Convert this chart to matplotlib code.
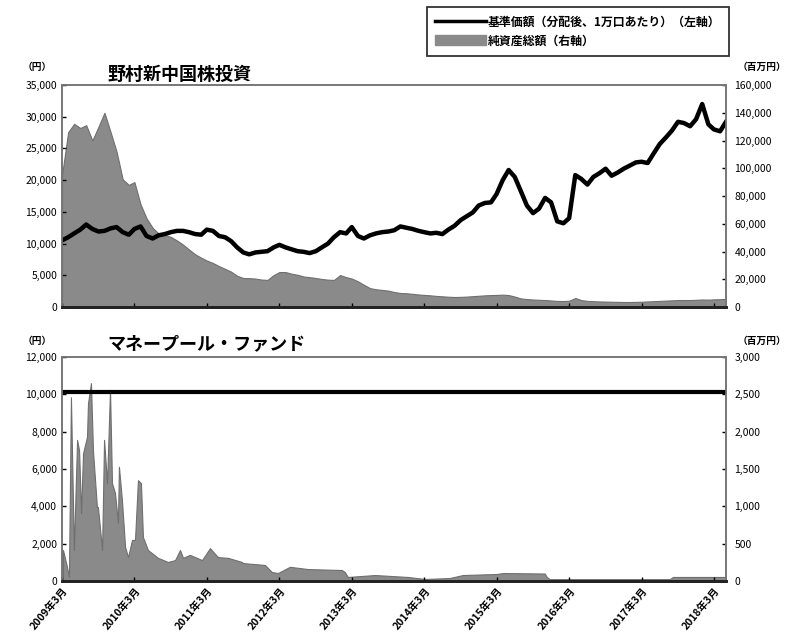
import pandas as pd
import matplotlib
matplotlib.use("Agg")
import matplotlib.pyplot as plt
from matplotlib.ticker import FuncFormatter
from matplotlib.lines import Line2D
from matplotlib.patches import Patch

plt.rcParams['font.family'] = ['Noto Sans CJK JP', 'DejaVu Sans']

# --- top fund: monthly, 2009/3 - 2018/5 ---
months_top = pd.date_range('2009-03-01', '2018-05-01', freq='MS')
nav_top = [10500, 11000, 11600, 12200, 13000, 12300, 11900, 12000, 12400, 12600,
           11800, 11400, 12300, 12700, 11200, 10800, 11300, 11500, 11800, 12000,
           12000, 11800, 11500, 11400, 12200, 12000, 11200, 11000, 10400, 9400,
           8600, 8300, 8600, 8700, 8800, 9400, 9800, 9400, 9100, 8800,
           8700, 8500, 8800, 9400, 10000, 11000, 11800, 11600, 12600, 11200,
           10800, 11300, 11600, 11800, 11900, 12100, 12700, 12500, 12300, 12000,
           11800, 11600, 11700, 11500, 12200, 12800, 13700, 14300, 14900, 16000,
           16400, 16500, 17800, 20000, 21600, 20500, 18300, 16000, 14800, 15500,
           17200, 16500, 13500, 13200, 14000, 20800, 20200, 19300, 20500, 21100,
           21800, 20700, 21200, 21800, 22300, 22800, 22900, 22700, 24200, 25700,
           26700, 27800, 29200, 29000, 28500, 29600, 32000, 28800, 28000, 27700,
           29200]
assets_top = [95000, 126000, 132000, 129000, 131000, 120000, 130000, 140000, 126000, 112000,
              92000, 88000, 90000, 74000, 64000, 57000, 53000, 52000, 50500, 48000,
              45000, 41500, 38000, 35500, 33500, 31700, 29500, 27500, 25500, 22500,
              20900, 20800, 20500, 19800, 19500, 23000, 25200, 25200, 24000, 23200,
              22000, 21500, 20900, 20200, 19700, 19500, 23000, 21500, 20500, 18500,
              16000, 13600, 12800, 12300, 11800, 10800, 10100, 9900, 9500, 9000,
              8700, 8400, 8000, 7700, 7400, 7200, 7300, 7500, 7800, 8100,
              8400, 8600, 8700, 8900, 8600, 7500, 6200, 5700, 5400, 5200,
              5000, 4700, 4400, 4300, 4500, 6500, 5000, 4400, 4200, 4000,
              3900, 3800, 3700, 3600, 3600, 3700, 3800, 4000, 4200, 4400,
              4600, 4800, 5000, 5000, 5000, 5200, 5400, 5300, 5500, 5600,
              5800]

# --- money pool fund ---
mrf_nav_dates = ['2009-03-01', '2018-05-01']
mrf_nav = [10100, 10100]
mrf_dates = ['2009-03-06', '2009-03-26', '2009-04-05', '2009-04-15', '2009-04-25', '2009-04-30',
             '2009-05-16', '2009-05-26', '2009-06-05', '2009-06-15', '2009-07-05', '2009-07-10',
             '2009-07-25', '2009-08-04', '2009-08-24', '2009-08-29', '2009-09-19', '2009-09-29',
             '2009-10-14', '2009-10-29', '2009-11-08', '2009-11-23', '2009-12-08', '2009-12-13',
             '2009-12-28', '2010-01-13', '2010-01-28', '2010-02-17', '2010-03-04', '2010-03-19',
             '2010-04-03', '2010-04-13', '2010-05-08', '2010-06-28', '2010-08-17', '2010-09-22',
             '2010-10-17', '2010-11-01', '2010-12-06', '2011-02-05', '2011-03-17', '2011-04-26',
             '2011-06-16', '2011-08-25', '2011-08-30', '2011-12-19', '2012-01-23', '2012-02-23',
             '2012-04-23', '2012-07-23', '2013-01-10', '2013-01-25', '2013-02-09', '2013-06-26',
             '2013-12-09', '2014-03-05', '2014-07-08', '2014-09-12', '2015-03-02', '2015-04-02',
             '2015-10-30', '2015-11-09', '2015-11-24', '2017-07-22', '2017-08-06', '2018-04-30']
mrf_assets = [415, 190, 55, 2460, 1085, 415, 1890, 1750, 910, 1710, 1930, 2380,
              2650, 1750, 990, 990, 415, 1890, 1310, 2560, 1310, 1180, 780, 1530,
              1085, 455, 320, 550, 550, 1350, 1310, 590, 415, 310, 255, 280,
              415, 310, 350, 280, 440, 320, 310, 255, 240, 215, 120, 107,
              190, 160, 147, 120, 54, 80, 54, 27, 40, 80, 94, 107,
              100, 54, 25, 25, 54, 54]

tick_dates = pd.date_range('2009-03-01', '2018-03-01', freq='12MS')
tick_labels = [f"{d.year}年3月" for d in tick_dates]

area_col = '#8a8a8a'
comma = FuncFormatter(lambda v, p: f"{int(v):,}")

fig = plt.figure(figsize=(7.9, 6.42), dpi=100)
ax1 = fig.add_axes([0.0785, 0.5218, 0.8405, 0.3458])
ax3 = fig.add_axes([0.0785, 0.095, 0.8405, 0.349])

def setup(ax, ax2, ymax, ystep, y2max, y2step, show_labels):
    ax.set_zorder(ax2.get_zorder() + 1)
    ax.patch.set_visible(False)
    ax.set_xlim(pd.Timestamp('2009-03-01'), pd.Timestamp('2018-05-01'))
    ax.set_ylim(0, ymax)
    ax2.set_ylim(0, y2max)
    ax.set_yticks(range(0, ymax + 1, ystep))
    ax2.set_yticks(range(0, y2max + 1, y2step))
    ax.yaxis.set_major_formatter(comma)
    ax2.yaxis.set_major_formatter(comma)
    ax.set_xticks(tick_dates)
    if show_labels:
        ax.set_xticklabels(tick_labels, rotation=50, ha='right', rotation_mode='anchor',
                           fontsize=7.5, fontweight='bold')
    else:
        ax.set_xticklabels([])
    for a in (ax, ax2):
        a.tick_params(direction='in', length=3, labelsize=7.5, width=1)
        for s in a.spines.values():
            s.set_color('#777777')
            s.set_linewidth(1.2)
        a.spines['bottom'].set_color('#222222')
        a.spines['bottom'].set_linewidth(2)
    ax2.tick_params(axis='y', pad=6)

# top panel
ax2 = ax1.twinx()
ax2.fill_between(months_top, assets_top, color=area_col, edgecolor='#6f6f6f', lw=0.8)
ax1.plot(months_top, nav_top, color='black', lw=3.2)
setup(ax1, ax2, 35000, 5000, 160000, 20000, False)

# bottom panel
ax4 = ax3.twinx()
ax4.fill_between(pd.to_datetime(mrf_dates), mrf_assets, color=area_col, edgecolor='#6f6f6f', lw=0.8)
ax3.plot(pd.to_datetime(mrf_nav_dates), mrf_nav, color='black', lw=3)
setup(ax3, ax4, 12000, 2000, 3000, 500, True)

fig.text(107 / 790, 1 - 74 / 642, '野村新中国株投資', fontsize=13, fontweight='bold', va='center')
fig.text(107 / 790, 1 - 344 / 642, 'マネープール・ファンド', fontsize=13, fontweight='bold', va='center')
for y in (67, 341):
    fig.text(37 / 790, 1 - y / 642, '（円）', fontsize=7, ha='center', va='center', fontweight='bold')
    fig.text(762 / 790, 1 - y / 642, '（百万円）', fontsize=7, ha='center', va='center', fontweight='bold')

handles = [Line2D([0], [0], color='black', lw=2.5),
           Patch(facecolor=area_col, edgecolor=area_col)]
leg = fig.legend(handles, ['基準価額（分配後、1万口あたり）（左軸）', '純資産総額（右軸）'],
                 loc='upper right', bbox_to_anchor=(729 / 790, 1 - 7 / 642),
                 frameon=True, fancybox=False, edgecolor='black',
                 handlelength=4.2, handleheight=0.9, handletextpad=0.2,
                 borderpad=0.7, labelspacing=0.5, borderaxespad=0,
                 prop={'weight': 'bold', 'size': 8.6})
leg.get_frame().set_linewidth(1.3)

plt.savefig('out.png', dpi=100)
